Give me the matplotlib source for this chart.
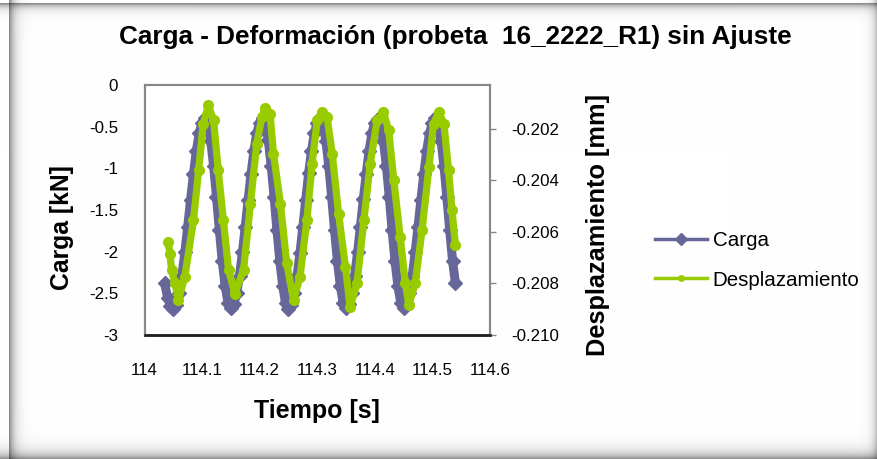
import numpy as np
import matplotlib
matplotlib.use("Agg")
import matplotlib.pyplot as plt
from matplotlib.lines import Line2D
from matplotlib.ticker import FixedLocator

plt.rcParams['font.family'] = ['Liberation Sans', 'DejaVu Sans']

# ---------------- data ----------------
tiempo_carga = [
    114.035, 114.040, 114.045, 114.050,
    114.055, 114.060, 114.065, 114.070, 114.075, 114.080, 114.085, 114.090, 114.095, 114.100, 114.105,
    114.110, 114.115, 114.120, 114.125, 114.130, 114.135, 114.140, 114.145, 114.150,
    114.155, 114.160, 114.165, 114.170, 114.175, 114.180, 114.185, 114.190, 114.195, 114.200, 114.205,
    114.210, 114.215, 114.220, 114.225, 114.230, 114.235, 114.240, 114.245, 114.250,
    114.255, 114.260, 114.265, 114.270, 114.275, 114.280, 114.285, 114.290, 114.295, 114.300, 114.305,
    114.310, 114.315, 114.320, 114.325, 114.330, 114.335, 114.340, 114.345, 114.350,
    114.355, 114.360, 114.365, 114.370, 114.375, 114.380, 114.385, 114.390, 114.395, 114.400, 114.405,
    114.410, 114.415, 114.420, 114.425, 114.430, 114.435, 114.440, 114.445, 114.450,
    114.455, 114.460, 114.465, 114.470, 114.475, 114.480, 114.485, 114.490, 114.495, 114.500, 114.505,
    114.510, 114.515, 114.520, 114.525, 114.530, 114.535, 114.540,
]
carga = [
    -2.38, -2.55, -2.65, -2.69,
    -2.64, -2.50, -2.29, -2.01, -1.70, -1.38, -1.07, -0.79, -0.58, -0.45, -0.40,
    -0.47, -0.67, -0.97, -1.34, -1.74, -2.11, -2.41, -2.61, -2.68,
    -2.63, -2.50, -2.29, -2.01, -1.70, -1.38, -1.07, -0.79, -0.58, -0.45, -0.39,
    -0.46, -0.66, -0.97, -1.34, -1.74, -2.11, -2.41, -2.62, -2.69,
    -2.64, -2.50, -2.29, -2.02, -1.70, -1.38, -1.06, -0.79, -0.58, -0.45, -0.40,
    -0.47, -0.67, -0.97, -1.34, -1.74, -2.11, -2.41, -2.61, -2.68,
    -2.63, -2.50, -2.29, -2.01, -1.70, -1.37, -1.07, -0.79, -0.58, -0.45, -0.41,
    -0.47, -0.67, -0.97, -1.34, -1.74, -2.11, -2.41, -2.61, -2.68,
    -2.63, -2.49, -2.29, -2.01, -1.70, -1.38, -1.07, -0.79, -0.58, -0.45, -0.40,
    -0.47, -0.67, -0.97, -1.34, -1.74, -2.11, -2.38,
]

tiempo_desp = [
    114.041, 114.044, 114.047, 114.053, 114.059, 114.070, 114.085, 114.094, 114.102, 114.111,
    114.120, 114.128, 114.137, 114.146, 114.157, 114.172, 114.184, 114.195, 114.204, 114.210,
    114.218, 114.224, 114.236, 114.247, 114.259, 114.270, 114.282, 114.291, 114.300, 114.308,
    114.317, 114.326, 114.337, 114.349, 114.357, 114.369, 114.381, 114.392, 114.404, 114.415,
    114.424, 114.433, 114.444, 114.453, 114.459, 114.470, 114.482, 114.494, 114.502, 114.511,
    114.520, 114.528, 114.534, 114.540,
]
desplazamiento = [
    -0.20639, -0.20684, -0.20748, -0.20800, -0.20865, -0.20774, -0.20555, -0.20361, -0.20180, -0.20109,
    -0.20167, -0.20361, -0.20555, -0.20748, -0.20839, -0.20748, -0.20490, -0.20257, -0.20154, -0.20118,
    -0.20141, -0.20296, -0.20490, -0.20722, -0.20865, -0.20774, -0.20555, -0.20335, -0.20167, -0.20135,
    -0.20154, -0.20296, -0.20529, -0.20736, -0.20891, -0.20800, -0.20555, -0.20335, -0.20167, -0.20135,
    -0.20206, -0.20400, -0.20619, -0.20800, -0.20884, -0.20800, -0.20593, -0.20348, -0.20180, -0.20135,
    -0.20180, -0.20361, -0.20516, -0.20652,
]

x_ticks = [114.0, 114.1, 114.2, 114.3, 114.4, 114.5, 114.6]
x_tick_labels = ["114", "114.1", "114.2", "114.3", "114.4", "114.5", "114.6"]
y_left_ticks = [0, -0.5, -1, -1.5, -2, -2.5, -3]
y_left_labels = ["0", "-0.5", "-1", "-1.5", "-2", "-2.5", "-3"]
y_right_ticks = [-0.210, -0.208, -0.206, -0.204, -0.202]
y_right_labels = ["-0.210", "-0.208", "-0.206", "-0.204", "-0.202"]

title = "Carga - Deformación (probeta  16_2222_R1) sin Ajuste"
series_names = ["Carga", "Desplazamiento"]

BLUE = "#666699"
GREEN = "#99CC00"

# ---------------- figure ----------------
W, H = 877, 459
fig = plt.figure(figsize=(W / 100, H / 100), dpi=100, facecolor="white")

# inset shadow frame
xx = np.arange(W)[None, :].astype(float)
yy = np.arange(H)[:, None].astype(float)
left = np.where(xx >= 9, 1 - 0.45 * np.exp(-(xx - 9) / 5.0), 1.0)
top = np.where(yy >= 3, 1 - 0.45 * np.exp(-(yy - 3) / 4.0), 1.0)
bottom = 1 - 0.42 * np.exp(-(H - 1 - yy) / 6.0)
right = 1 - 0.25 * np.exp(-(W - 1 - xx) / 4.0)
shade = left * top * bottom * right
img = np.dstack([shade, shade, shade])
fig.figimage(img, 0, 0, origin="upper", zorder=-10)

ax = fig.add_axes([144.5 / W, 1 - 335 / H, (490 - 144.5) / W, (335 - 85) / H])
ax.set_zorder(1)
ax.set_facecolor("white")
ax2 = ax.twinx()
ax2.set_zorder(2)
ax2.patch.set_visible(False)

ax.plot(tiempo_carga, carga, color=BLUE, lw=6.5, marker="D", ms=7.5,
        solid_joinstyle="round", solid_capstyle="round", zorder=2)
ax2.plot(tiempo_desp, desplazamiento, color=GREEN, lw=5.2, marker="o", ms=7,
         solid_joinstyle="round", solid_capstyle="round", zorder=3)

ax.set_xlim(114.0, 114.6)
ax.set_ylim(-3, 0)
ax2.set_ylim(-0.210, -0.2003)

ax.xaxis.set_major_locator(FixedLocator(x_ticks))
ax.set_xticklabels(x_tick_labels)
ax.yaxis.set_major_locator(FixedLocator(y_left_ticks))
ax.set_yticklabels(y_left_labels)
ax2.yaxis.set_major_locator(FixedLocator(y_right_ticks))
ax2.set_yticklabels(y_right_labels)

ax.tick_params(axis="x", length=0, pad=20, labelsize=12.2, colors="black")
ax.tick_params(axis="y", length=0, pad=19, labelsize=12.2, colors="black")
ax2.tick_params(axis="y", length=4, width=1, color="#888888", pad=11,
                labelsize=12.2, labelcolor="black", direction="out")

for a in (ax, ax2):
    for s in a.spines.values():
        s.set_color("#888888")
        s.set_linewidth(1.5)
    a.spines["bottom"].set_color("#222222")
    a.spines["bottom"].set_linewidth(1.8)

# titles
fig.text(455 / W, 1 - 37 / H, title, ha="center", va="center",
         fontsize=18.8, fontweight="bold")
fig.text(317 / W, 1 - 411 / H, "Tiempo [s]", ha="center", va="center",
         fontsize=18, fontweight="bold")
fig.text(62 / W, 1 - 228 / H, "Carga [kN]", ha="center", va="center",
         rotation=90, fontsize=17.8, fontweight="bold")
fig.text(598 / W, 1 - 225 / H, "Desplazamiento [mm]", ha="center", va="center",
         rotation=90, fontsize=18.3, fontweight="bold")

# legend
handles = [
    Line2D([], [], color=BLUE, lw=2.5, marker="D", ms=6),
    Line2D([], [], color=GREEN, lw=2.5, marker="o", ms=4),
]
fig.legend(handles, series_names, loc="upper left",
           bbox_to_anchor=(655 / W, 1 - 231 / H), frameon=False,
           fontsize=14.8, handlelength=2.55, handletextpad=0.25,
           labelspacing=1.0, borderaxespad=0, borderpad=0)

fig.savefig("out.png", dpi=100, facecolor="white")
